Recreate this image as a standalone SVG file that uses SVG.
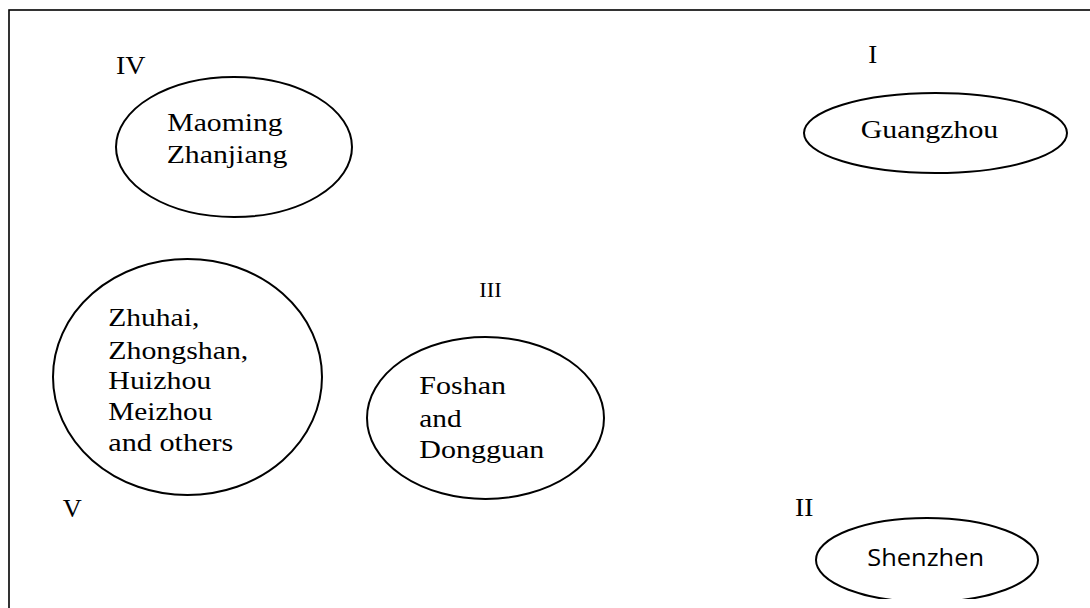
<svg xmlns="http://www.w3.org/2000/svg" width="1090" height="608" viewBox="0 0 1090 608">
<style>
.e{fill:#fff;stroke:#000;stroke-width:2}
.t{font-family:"Liberation Serif","Times New Roman",serif;font-size:25px;fill:#000}
.s{font-family:"Open Sans","Noto Sans","Liberation Sans",sans-serif;font-size:23px;fill:#000}
</style>
<defs>
<clipPath id="clipZ"><rect x="0" y="0" width="1090" height="453"/></clipPath>
<clipPath id="clipS"><rect x="0" y="0" width="1090" height="599"/></clipPath>
</defs>
<rect x="0" y="0" width="1090" height="608" fill="#fff"/>
<rect x="9" y="10" width="1100" height="620" fill="none" stroke="#000" stroke-width="1.6"/>
<g id="connectors"/>
<g id="node-iv">
<text class="t" x="116" y="74" textLength="29.5" lengthAdjust="spacingAndGlyphs">IV</text>
<ellipse class="e" cx="234" cy="147" rx="118" ry="70"/>
<text class="t" x="167.3" y="131" textLength="115.3" lengthAdjust="spacingAndGlyphs">Maoming</text>
<text class="t" x="166.7" y="163.3" textLength="120.7" lengthAdjust="spacingAndGlyphs">Zhanjiang</text>
</g>
<g id="node-i">
<text class="t" x="868.3" y="62.7" textLength="9" lengthAdjust="spacingAndGlyphs">I</text>
<ellipse class="e" cx="935.5" cy="133" rx="131.5" ry="40"/>
<text class="t" x="860.7" y="138.3" textLength="137.6" lengthAdjust="spacingAndGlyphs">Guangzhou</text>
</g>
<g id="node-v">
<ellipse class="e" cx="187.5" cy="377" rx="134.5" ry="118"/>
<g clip-path="url(#clipZ)">
<text class="t" x="108.3" y="326" textLength="91" lengthAdjust="spacingAndGlyphs">Zhuhai,</text>
<text class="t" x="108.3" y="359.3" textLength="140" lengthAdjust="spacingAndGlyphs">Zhongshan,</text>
<text class="t" x="108.3" y="389.3" textLength="103" lengthAdjust="spacingAndGlyphs">Huizhou</text>
<text class="t" x="108.3" y="420" textLength="104" lengthAdjust="spacingAndGlyphs">Meizhou</text>
<text class="t" x="108.3" y="451" textLength="125" lengthAdjust="spacingAndGlyphs">and others</text>
</g>
<text class="t" x="62.7" y="516.7" textLength="19" lengthAdjust="spacingAndGlyphs">V</text>
</g>
<g id="node-iii">
<text class="t" x="479.3" y="296.7" style="font-size:20px" textLength="22.3" lengthAdjust="spacingAndGlyphs">III</text>
<ellipse class="e" cx="485.5" cy="418" rx="118.5" ry="81"/>
<text class="t" x="419.3" y="394" textLength="86.7" lengthAdjust="spacingAndGlyphs">Foshan</text>
<text class="t" x="419.3" y="426.7" textLength="42.3" lengthAdjust="spacingAndGlyphs">and</text>
<text class="t" x="419.3" y="458.3" textLength="125" lengthAdjust="spacingAndGlyphs">Dongguan</text>
</g>
<g id="node-ii">
<text class="t" x="795" y="516" textLength="18.3" lengthAdjust="spacingAndGlyphs">II</text>
<ellipse class="e" cx="927" cy="560" rx="111" ry="42" clip-path="url(#clipS)"/>
<text class="s" x="867.3" y="566" textLength="116.7" lengthAdjust="spacingAndGlyphs">Shenzhen</text>
</g>
</svg>
